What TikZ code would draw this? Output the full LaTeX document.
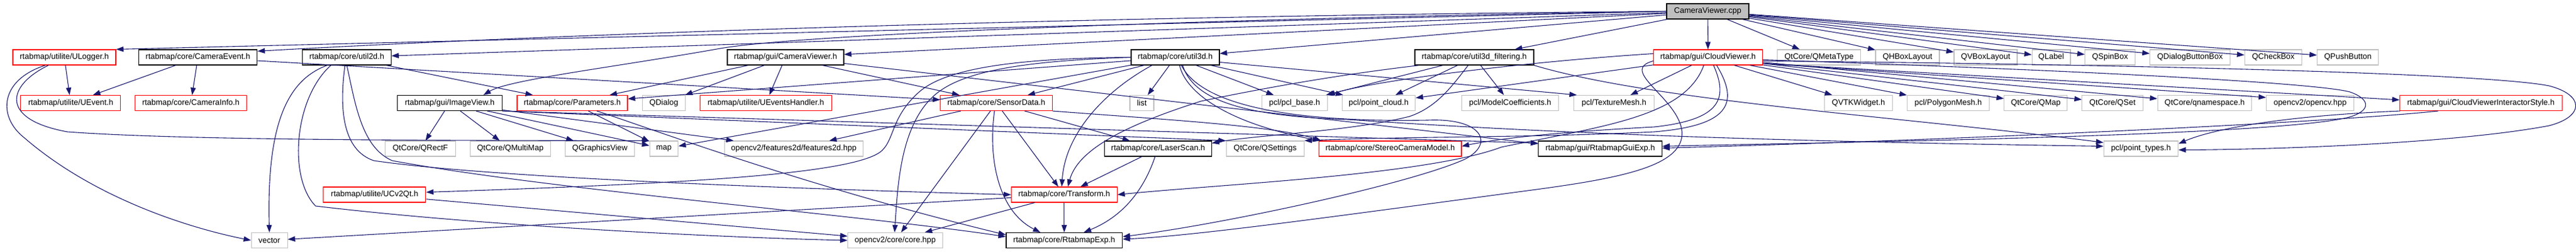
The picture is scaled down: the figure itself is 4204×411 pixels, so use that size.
\documentclass[tikz,border=0pt]{standalone}
\usepackage{fontspec}
\setmainfont{Liberation Sans}
\usetikzlibrary{arrows.meta}
\definecolor{edgec}{HTML}{191970}
\definecolor{redb}{HTML}{FF0000}
\definecolor{greyb}{HTML}{BFBFBF}
\begin{document}
\begin{tikzpicture}[x=1pt,y=-1pt,
  box/.style={draw, rectangle, minimum height=25pt, inner sep=0pt, font=\fontsize{13}{15}\selectfont, line width=1.1pt},
  docb/.style={box, draw=black},
  trunc/.style={box, draw=redb},
  ext/.style={box, draw=greyb},
  rootb/.style={box, draw=black, fill=greyb},
  dep/.style={draw=edgec, line width=1.1pt, -{Triangle[length=12pt,width=8.5pt]}}
]
\useasboundingbox (0,0) rectangle (4204,411);
% row 1
\node[rootb, minimum width=134pt] (cpp) at (2787,18.5) {CameraViewer.cpp};
% row 2
\node[trunc, minimum width=168pt] (ulog) at (105,93.5) {rtabmap/utilite/ULogger.h};
\node[docb, minimum width=193.5pt] (camev) at (323,93.5) {rtabmap/core/CameraEvent.h};
\node[docb, minimum width=144.5pt] (u2d) at (566,93.5) {rtabmap/core/util2d.h};
\node[docb, minimum width=190pt] (cvh) at (1282,93.5) {rtabmap/gui/CameraViewer.h};
\node[docb, minimum width=144pt] (u3d) at (1918,93.5) {rtabmap/core/util3d.h};
\node[docb, minimum width=194pt] (u3df) at (2406,93.5) {rtabmap/core/util3d\_filtering.h};
\node[trunc, minimum width=178pt] (cloud) at (2787.5,93.5) {rtabmap/gui/CloudViewer.h};
\node[ext, minimum width=136pt] (qmeta) at (2968.6,93.5) {QtCore/QMetaType};
\node[ext, minimum width=104pt] (qhbox) at (3113,93.5) {QHBoxLayout};
\node[ext, minimum width=103pt] (qvbox) at (3240.5,93.5) {QVBoxLayout};
\node[ext, minimum width=62.7pt] (qlabel) at (3347.6,93.5) {QLabel};
\node[ext, minimum width=81.6pt] (qspin) at (3443.5,93.5) {QSpinBox};
\node[ext, minimum width=130.5pt] (qdbb) at (3574,93.5) {QDialogButtonBox};
\node[ext, minimum width=93.5pt] (qcheck) at (3710,93.5) {QCheckBox};
\node[ext, minimum width=100pt] (qpush) at (3831.7,93.5) {QPushButton};
% row 3
\node[trunc, minimum width=163pt] (uevent) at (115.4,168) {rtabmap/utilite/UEvent.h};
\node[trunc, minimum width=181.5pt] (caminfo) at (311.5,168) {rtabmap/core/CameraInfo.h};
\node[docb, minimum width=170.4pt] (imgview) at (734,168) {rtabmap/gui/ImageView.h};
\node[trunc, minimum width=180pt] (params) at (934,168) {rtabmap/core/Parameters.h};
\node[ext, minimum width=69.6pt] (qdialog) at (1083.4,168) {QDialog};
\node[trunc, minimum width=214.5pt] (uevh) at (1249.9,168) {rtabmap/utilite/UEventsHandler.h};
\node[trunc, minimum width=182.3pt] (sensor) at (1626,168) {rtabmap/core/SensorData.h};
\node[ext, minimum width=39pt] (list) at (1863.5,168) {list};
\node[ext, minimum width=106.7pt] (pclbase) at (2112.7,168) {pcl/pcl\_base.h};
\node[ext, minimum width=119.7pt] (pclpc) at (2250,168) {pcl/point\_cloud.h};
\node[ext, minimum width=158.4pt] (modelc) at (2464.6,168) {pcl/ModelCoefficients.h};
\node[ext, minimum width=130.3pt] (texmesh) at (2634,168) {pcl/TextureMesh.h};
\node[ext, minimum width=110.3pt] (qvtk) at (3033,168) {QVTKWidget.h};
\node[ext, minimum width=134pt] (polymesh) at (3179.5,168) {pcl/PolygonMesh.h};
\node[ext, minimum width=103pt] (qmap) at (3322.3,168) {QtCore/QMap};
\node[ext, minimum width=99.2pt] (qset) at (3447.5,168) {QtCore/QSet};
\node[ext, minimum width=153.7pt] (qns) at (3598,168) {QtCore/qnamespace.h};
\node[ext, minimum width=142.8pt] (ocv) at (3770,168) {opencv2/opencv.hpp};
\node[trunc, minimum width=264.4pt] (cvis) at (4048.8,168) {rtabmap/gui/CloudViewerInteractorStyle.h};
% row 4
\node[ext, minimum width=114.7pt] (qrectf) at (686,242.5) {QtCore/QRectF};
\node[ext, minimum width=131.2pt] (qmmap) at (832.8,242.5) {QtCore/QMultiMap};
\node[ext, minimum width=113.3pt] (qgv) at (979,242.5) {QGraphicsView};
\node[ext, minimum width=46.5pt] (map) at (1083.5,242.5) {map};
\node[ext, minimum width=226.6pt] (feat) at (1295.5,242.5) {opencv2/features2d/features2d.hpp};
\node[docb, minimum width=174.3pt] (laser) at (1890,242.5) {rtabmap/core/LaserScan.h};
\node[ext, minimum width=127.3pt] (qsettings) at (2064.7,242.5) {QtCore/QSettings};
\node[trunc, minimum width=232.3pt] (stereo) at (2268.8,242.5) {rtabmap/core/StereoCameraModel.h};
\node[docb, minimum width=201.7pt] (guiexp) at (2611.5,242.5) {rtabmap/gui/RtabmapGuiExp.h};
\node[ext, minimum width=121.5pt] (ptypes) at (3494,242.5) {pcl/point\_types.h};
% row 5
\node[trunc, minimum width=167pt] (ucv) at (611.4,317.5) {rtabmap/utilite/UCv2Qt.h};
\node[trunc, minimum width=172.5pt] (transform) at (1736.8,317.5) {rtabmap/core/Transform.h};
% row 6
\node[ext, minimum width=58.9pt] (vector) at (439.6,392) {vector};
\node[ext, minimum width=154.6pt] (corehpp) at (1461,392) {opencv2/core/core.hpp};
\node[docb, minimum width=189.7pt] (rexp) at (1736.8,392) {rtabmap/core/RtabmapExp.h};

% ---- edges from CameraViewer.cpp
\draw[dep] (cpp.west) -- (ulog.north east);
\draw[dep] (cpp.west) .. controls (1600,28) and (800,62) .. ([yshift=-3pt]camev.north east);
\draw[dep] (cpp) -- (u2d);
\draw[dep] (cpp) -- (cvh);
\draw[dep] (cpp) -- (u3d);
\draw[dep] (cpp) -- (u3df);
\draw[dep] (cpp) -- (cloud);
\draw[dep] (cpp) -- (qmeta);
\draw[dep] (cpp) -- (qhbox);
\draw[dep] (cpp) -- (qvbox);
\draw[dep] (cpp) -- (qlabel);
\draw[dep] (cpp) -- (qspin);
\draw[dep] (cpp) -- (qdbb);
\draw[dep] (cpp) -- (qcheck);
\draw[dep] (cpp) -- (qpush);
\draw[dep] (cpp.west) .. controls (2000,30) and (1300,55) .. (1170,80) .. controls (1000,110) and (830,130) .. ([xshift=55pt]imgview.north);

% ---- ULogger
\draw[dep] (ulog) -- (uevent);
\draw[dep] ([xshift=-31pt]ulog.south) .. controls (0,130) and (-5,190) .. (40,225) .. controls (150,320) and (300,370) .. (vector.west);
\draw[dep] ([xshift=-26pt]ulog.south) .. controls (10,140) and (0,195) .. (110,215) .. controls (300,229) and (700,229) .. (map.north west);

% ---- CameraEvent
\draw[dep] (camev) -- (uevent);
\draw[dep] (camev) -- (caminfo);
\draw[dep] (camev) -- (sensor);

% ---- util2d
\draw[dep] (u2d) -- (params);
\draw[dep] ([xshift=-32pt]u2d.south) .. controls (470,130) and (435,200) .. (vector.north);
\draw[dep] ([xshift=-26pt]u2d.south) .. controls (480,160) and (470,290) .. (515,336) .. controls (800,370) and (1200,388) .. (corehpp.west);
\draw[dep] ([xshift=-3pt]u2d.south) .. controls (553,180) and (560,245) .. (610,262) .. controls (800,290) and (1300,308) .. (transform.west);
\draw[dep] (u2d.south) .. controls (580,170) and (590,240) .. (640,262) .. controls (900,310) and (1400,350) .. ([yshift=6pt]rexp.west);

% ---- UCv2Qt
\draw[dep] (ucv) -- (corehpp);

% ---- CameraViewer.h
\draw[dep] (cvh) -- (qdialog);
\draw[dep] (cvh) -- (uevh);
\draw[dep] (cvh) -- (sensor);
\draw[dep] (cvh) -- (params);
\draw[dep] ([yshift=-10pt]cvh.east) -- ([yshift=-5pt]guiexp.north west);

% ---- ImageView
\draw[dep] (imgview) -- (qrectf);
\draw[dep] (imgview) -- (qmmap);
\draw[dep] (imgview) -- (qgv);
\draw[dep] (imgview) -- (map);
\draw[dep] (imgview) -- (feat);
\draw[dep] (imgview.south east) -- (qsettings.north west);
\draw[dep] (imgview.south east) -- ([yshift=-4pt]guiexp.north west);

% ---- Parameters
\draw[dep] (params) -- (map);
\draw[dep] ([xshift=40pt]params.south) .. controls (1050,205) and (1300,300) .. ([yshift=9pt]rexp.west);

% ---- SensorData
\draw[dep] (sensor) -- (feat);
\draw[dep] (sensor) -- (corehpp);
\draw[dep] (sensor) -- (transform);
\draw[dep] (sensor) -- (laser);
\draw[dep] ([xshift=-3pt]sensor.south) .. controls (1612,260) and (1630,345) .. ([xshift=-39pt]rexp.north);
\draw[dep] (sensor.south east) .. controls (1900,195) and (2080,205) .. ([xshift=4pt]stereo.north west);

% ---- util3d
\draw[dep] (u3d) -- (list);
\draw[dep] (u3d) -- (pclbase);
\draw[dep] (u3d) -- (pclpc);
\draw[dep] (u3d) -- (sensor);
\draw[dep] (u3d) -- (map);
\draw[dep] (u3d) -- (params);
\draw[dep] ([yshift=-8pt]u3d.east) -- ([xshift=5pt]texmesh.north west);
\draw[dep] ([xshift=-38pt]u3d.south) .. controls (1800,150) and (1738,220) .. ([xshift=-4pt]transform.north);
\draw[dep] ([xshift=7pt]u3d.south) .. controls (1935,150) and (2000,200) .. ([xshift=2pt]stereo.north west);
\draw[dep] ([xshift=12pt]u3d.south) .. controls (1950,170) and (2050,190) .. (2200,195) .. controls (2600,222) and (3000,232) .. ([yshift=4pt]ptypes.west);
\draw[dep] ([xshift=10pt]u3d.south) .. controls (1960,170) and (2100,200) .. (2330,196) .. controls (2420,192) and (2440,235) .. (2390,260) .. controls (2300,300) and (2000,365) .. ([yshift=6pt]rexp.east);
\draw[dep] (u3d.west) .. controls (1640,95) and (1540,115) .. (1500,150) .. controls (1455,190) and (1460,225) .. (1440,245) .. controls (1400,285) and (1100,300) .. ([yshift=4pt]ucv.east);
\draw[dep] (u3d.west) .. controls (1650,100) and (1560,120) .. (1520,160) .. controls (1470,210) and (1465,300) .. ([xshift=-1pt]corehpp.north);

% ---- util3d_filtering
\draw[dep] (u3df) -- (pclbase);
\draw[dep] (u3df) -- (pclpc);
\draw[dep] (u3df) -- (modelc);
\draw[dep] ([xshift=-90pt]u3df.south) .. controls (2200,120) and (2080,140) .. (1960,165) .. controls (1850,200) and (1760,240) .. ([xshift=6pt]transform.north);
\draw[dep] ([xshift=-10pt]u3df.south) .. controls (2370,140) and (2345,175) .. (2300,190) .. controls (2200,215) and (2050,220) .. ([yshift=9pt]laser.east);
\draw[dep] (u3df.south east) .. controls (2700,165) and (3100,190) .. ([yshift=-3pt]ptypes.north west);

% ---- CloudViewer
\draw[dep] (cloud) -- (texmesh);
\draw[dep] (cloud) -- (qvtk);
\draw[dep] (cloud) -- (polymesh);
\draw[dep] (cloud) -- (qmap);
\draw[dep] (cloud) -- (qset);
\draw[dep] (cloud) -- (qns);
\draw[dep] ([yshift=-10pt]cloud.east) -- ([yshift=-4pt]ocv.north west);
\draw[dep] ([yshift=-10pt]cloud.east) -- ([yshift=-8pt]cvis.north west);
\draw[dep] (cloud) -- (pclpc);
\draw[dep] ([yshift=6pt]cloud.west) .. controls (2500,100) and (2250,130) .. (pclbase.north east);
\draw[dep] ([xshift=-7pt]cloud.south) .. controls (2750,190) and (2620,205) .. (2450,240) .. controls (2330,285) and (2000,300) .. (transform.east);
\draw[dep] ([xshift=9pt]cloud.south) .. controls (2820,160) and (2810,195) .. (2700,207) .. controls (2550,215) and (2450,225) .. ([yshift=4pt]stereo.east);
\draw[dep] ([xshift=14pt]cloud.south) .. controls (2840,170) and (2820,205) .. (2700,215) .. controls (2500,225) and (2300,222) .. (qsettings.north east);
\draw[dep] ([yshift=-6pt]cloud.west) .. controls (2640,115) and (2740,160) .. (2745,215) .. controls (2748,270) and (2650,290) .. (2500,310) .. controls (2200,350) and (1950,385) .. ([yshift=2pt]rexp.east);
\draw[dep] ([yshift=-4pt]cloud.east) .. controls (3400,115) and (3780,135) .. (3835,150) .. controls (3870,162) and (3870,182) .. (3830,192) .. controls (3700,222) and (3000,232) .. ([yshift=4pt]guiexp.east);
\draw[dep] ([yshift=-6pt]cloud.east) .. controls (3400,104) and (4050,118) .. (4160,140) .. controls (4218,155) and (4218,190) .. (4160,205) .. controls (4000,235) and (3700,244) .. ([yshift=-2pt]ptypes.east);

% ---- CloudViewerInteractorStyle
\draw[dep] ([xshift=-70pt]cvis.south) .. controls (3800,200) and (3200,228) .. ([yshift=1pt]guiexp.east);
\draw[dep] ([xshift=-132pt]cvis.south) .. controls (3700,190) and (3600,215) .. ([yshift=8pt]ptypes.east);

% ---- LaserScan
\draw[dep] (laser) -- (transform);
\draw[dep] ([xshift=-5pt]laser.south) .. controls (1870,300) and (1840,350) .. ([xshift=32pt]rexp.north);

% ---- Transform
\draw[dep] (transform) -- (rexp);
\draw[dep] (transform) -- (vector);
\draw[dep] (transform) -- (corehpp);
\end{tikzpicture}
\end{document}
